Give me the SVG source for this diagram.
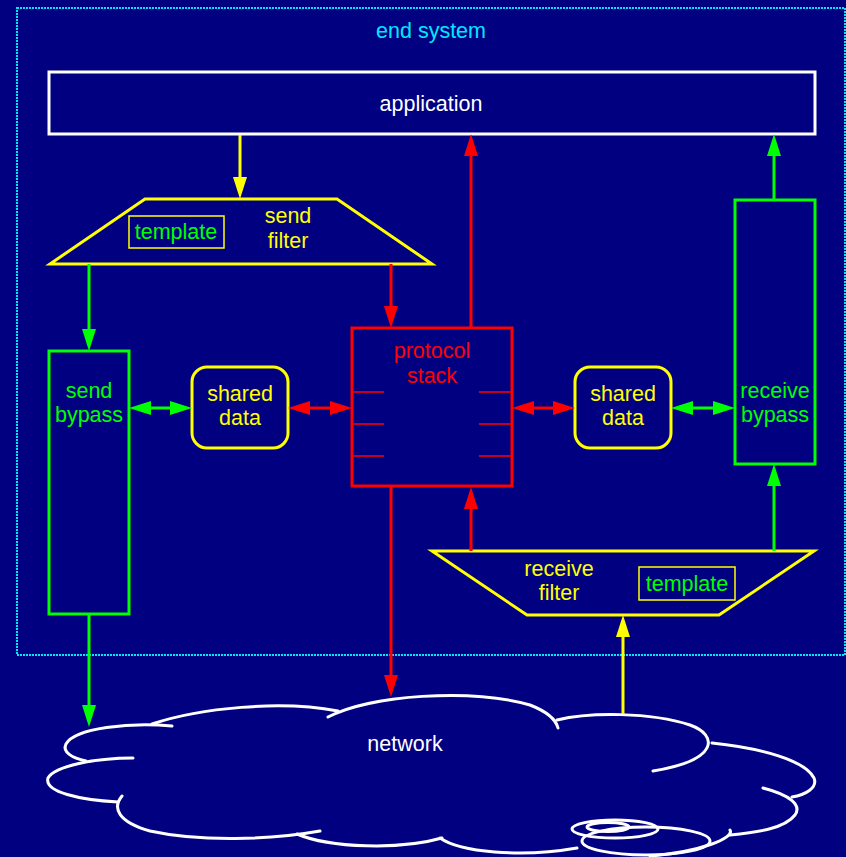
<svg xmlns="http://www.w3.org/2000/svg" width="846" height="857" viewBox="0 0 846 857">
  <defs>
    <style>
      text { font-family: "Liberation Sans", Arial, sans-serif; font-size: 21.5px; text-anchor: middle; }
      .box { fill: none; stroke-width: 3; }
      .yel { stroke: #ffff00; }
      .grn { stroke: #00ff00; }
      .red { stroke: #ff0000; }
      .wht { stroke: #ffffff; }
      .tyel { fill: #ffff00; }
      .tgrn { fill: #00ff00; }
      .tred { fill: #ff0000; }
      .twht { fill: #ffffff; }
      .conn path { fill: none; stroke-width: 3; }
      .cloud path, .cloud ellipse { fill: none; stroke: #ffffff; stroke-width: 3; stroke-linecap: round; }
      .layer { stroke: #ff0000; stroke-width: 1.5; }
    </style>
    <marker id="ah-yel" viewBox="0 0 22 14" refX="12" refY="7" markerWidth="22" markerHeight="14" markerUnits="userSpaceOnUse" orient="auto-start-reverse">
      <path d="M0,0 L22,7 L0,14 z" fill="#ffff00"/>
    </marker>
    <marker id="ah-grn" viewBox="0 0 22 14" refX="12" refY="7" markerWidth="22" markerHeight="14" markerUnits="userSpaceOnUse" orient="auto-start-reverse">
      <path d="M0,0 L22,7 L0,14 z" fill="#00ff00"/>
    </marker>
    <marker id="ah-red" viewBox="0 0 22 14" refX="12" refY="7" markerWidth="22" markerHeight="14" markerUnits="userSpaceOnUse" orient="auto-start-reverse">
      <path d="M0,0 L22,7 L0,14 z" fill="#ff0000"/>
    </marker>
  </defs>

  <rect x="0" y="0" width="846" height="857" fill="#000080"/>

  <!-- end system boundary -->
  <g id="end-system">
    <rect x="17" y="8" width="828" height="647" fill="none" stroke="#00e8ff" stroke-width="2" stroke-dasharray="2 1"/>
    <text x="431" y="38" fill="#00e8ff">end system</text>
  </g>

  <g id="application">
    <rect class="box wht" x="49" y="72" width="766" height="62"/>
    <text class="twht" x="431" y="111">application</text>
  </g>

  <g id="send-filter">
    <polygon class="box yel" points="145,199 337,199 432,264 50,264"/>
    <rect x="129" y="216" width="95" height="32" fill="none" stroke="#ffff00" stroke-width="1.5"/>
    <text class="tgrn" x="176" y="239">template</text>
    <text class="tyel" x="288" y="223">send</text>
    <text class="tyel" x="288" y="248">filter</text>
  </g>

  <g id="send-bypass">
    <rect class="box grn" x="49" y="351" width="80" height="263"/>
    <text class="tgrn" x="89" y="398">send</text>
    <text class="tgrn" x="89" y="422">bypass</text>
  </g>

  <g id="shared-data-left">
    <rect class="box yel" x="192" y="367" width="96" height="81" rx="15"/>
    <text class="tyel" x="240" y="401">shared</text>
    <text class="tyel" x="240" y="425">data</text>
  </g>

  <g id="protocol-stack">
    <rect class="box red" x="352" y="328" width="160" height="158"/>
    <text class="tred" x="432" y="358">protocol</text>
    <text class="tred" x="432" y="383">stack</text>
    <path class="layer" d="M352,392 H384 M352,424 H384 M352,456 H384 M479,392 H512 M479,424 H512 M479,456 H512"/>
  </g>

  <g id="shared-data-right">
    <rect class="box yel" x="575" y="367" width="96" height="81" rx="15"/>
    <text class="tyel" x="623" y="401">shared</text>
    <text class="tyel" x="623" y="425">data</text>
  </g>

  <g id="receive-bypass">
    <rect class="box grn" x="735" y="200" width="80" height="264"/>
    <text class="tgrn" x="775" y="398">receive</text>
    <text class="tgrn" x="775" y="422">bypass</text>
  </g>

  <g id="receive-filter">
    <polygon class="box yel" points="432,551 814,551 719,615 527,615"/>
    <text class="tyel" x="559" y="576">receive</text>
    <text class="tyel" x="559" y="600">filter</text>
    <rect x="639" y="567" width="96" height="33" fill="none" stroke="#ffff00" stroke-width="1.5"/>
    <text class="tgrn" x="687" y="591">template</text>
  </g>

  <g id="network" class="cloud">
    <path d="M172,726 C130,722 75,728 66,744 C62,752 72,758 86,761"/>
    <path d="M133,758 C95,758 55,766 48,778 C44,792 80,800 118,802"/>
    <path d="M122,796 C112,808 118,822 150,831 C200,842 270,840 320,831"/>
    <path d="M297,834 C330,848 400,850 442,838"/>
    <path d="M440,838 C460,852 520,858 577,848"/>
    <path d="M152,724 C200,708 280,700 338,711"/>
    <path d="M328,717 C370,695 470,688 530,705 C548,712 556,720 558,728"/>
    <path d="M557,720 C590,712 650,712 690,725 C718,735 720,760 653,771"/>
    <path d="M712,743 C760,748 805,760 814,778 C818,788 805,795 792,797"/>
    <path d="M763,788 C790,795 802,805 795,815 C785,828 760,832 730,835"/>
    <path d="M730,830 C735,838 700,852 650,856"/>
    <ellipse cx="608" cy="827" rx="21" ry="4.5"/>
    <ellipse cx="615" cy="829" rx="43" ry="9"/>
    <ellipse cx="646" cy="841" rx="64" ry="14"/>
    <text class="twht" x="405" y="751">network</text>
  </g>

  <g id="connectors" class="conn">
    <path class="yel" d="M240,135 V189" marker-end="url(#ah-yel)"/>
    <path class="grn" d="M89,264 V341" marker-end="url(#ah-grn)"/>
    <path class="red" d="M391,264 V318" marker-end="url(#ah-red)"/>
    <path class="red" d="M471,328 V144" marker-end="url(#ah-red)"/>
    <path class="red" d="M471,551 V497" marker-end="url(#ah-red)"/>
    <path class="red" d="M391,487 V687" marker-end="url(#ah-red)"/>
    <path class="grn" d="M89,614 V717" marker-end="url(#ah-grn)"/>
    <path class="grn" d="M774,200 V144" marker-end="url(#ah-grn)"/>
    <path class="grn" d="M774,551 V474" marker-end="url(#ah-grn)"/>
    <path class="yel" d="M623,714 V625" marker-end="url(#ah-yel)"/>
    <path class="grn" d="M139,408 H182" marker-start="url(#ah-grn)" marker-end="url(#ah-grn)"/>
    <path class="red" d="M298,408 H342" marker-start="url(#ah-red)" marker-end="url(#ah-red)"/>
    <path class="red" d="M522,408 H565" marker-start="url(#ah-red)" marker-end="url(#ah-red)"/>
    <path class="grn" d="M681,408 H725" marker-start="url(#ah-grn)" marker-end="url(#ah-grn)"/>
  </g>
</svg>
